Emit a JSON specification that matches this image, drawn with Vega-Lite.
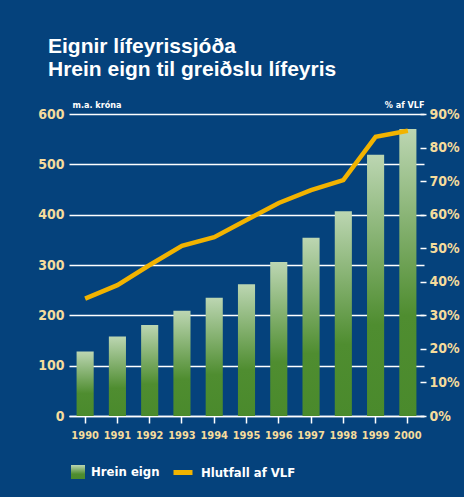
{
  "$schema": "https://vega.github.io/schema/vega-lite/v6.json",
  "width": 355,
  "height": 302,
  "autosize": {"type": "none"},
  "padding": {"left": 69, "top": 114, "right": 40, "bottom": 81},
  "background": "#05427c",
  "config": {
    "view": {"stroke": null},
    "font": "DejaVu Sans Condensed, Liberation Sans, sans-serif",
    "axis": {"labelFont": "DejaVu Sans Condensed, Liberation Sans, sans-serif", "labelFontWeight": "bold", "titleFont": "DejaVu Sans Condensed, Liberation Sans, sans-serif", "titleFontWeight": "bold"},
    "legend": {"labelFont": "DejaVu Sans Condensed, Liberation Sans, sans-serif", "labelFontWeight": "bold", "labelColor": "white", "labelFontSize": 13}
  },
  "title": {
    "text": ["Eignir lífeyrissjóða", "Hrein eign til greiðslu lífeyris"],
    "anchor": "start",
    "frame": "group",
    "font": "Liberation Sans",
    "fontWeight": "bold",
    "fontSize": 21,
    "lineHeight": 23,
    "color": "white",
    "dx": -21,
    "offset": 20
  },
  "data": {
    "values": [
      {"year": "1990", "eign": 128, "vlf": 0.35},
      {"year": "1991", "eign": 158, "vlf": 0.39},
      {"year": "1992", "eign": 181, "vlf": 0.45},
      {"year": "1993", "eign": 209, "vlf": 0.507},
      {"year": "1994", "eign": 235, "vlf": 0.533},
      {"year": "1995", "eign": 262, "vlf": 0.584},
      {"year": "1996", "eign": 306, "vlf": 0.635},
      {"year": "1997", "eign": 354, "vlf": 0.673},
      {"year": "1998", "eign": 407, "vlf": 0.703},
      {"year": "1999", "eign": 519, "vlf": 0.832},
      {"year": "2000", "eign": 570, "vlf": 0.85}
    ]
  },
  "encoding": {
    "x": {
      "field": "year",
      "type": "ordinal",
      "scale": {"paddingInner": 0.47, "paddingOuter": 0.235},
      "axis": {
        "title": null,
        "labelAngle": 0,
        "domainColor": "white",
        "domainWidth": 1.5,
        "tickColor": "white",
        "tickWidth": 1.5,
        "tickSize": 7,
        "labelColor": "#f5dc9c",
        "labelFontSize": 11,
        "labelPadding": 6
      }
    }
  },
  "layer": [
    {
      "mark": {
        "type": "bar",
        "fill": {"gradient": "linear", "x1": 0, "y1": 0, "x2": 0, "y2": 1, "stops": [{"offset": 0, "color": "#bcd6b2"}, {"offset": 0.65, "color": "#4f8d30"}, {"offset": 1, "color": "#4a8a2c"}]}
      },
      "encoding": {
        "y": {
          "field": "eign",
          "type": "quantitative",
          "scale": {"domain": [0, 600], "nice": false},
          "axis": {
            "orient": "left",
            "values": [0, 100, 200, 300, 400, 500, 600],
            "grid": true,
            "gridColor": "white",
            "gridWidth": 1.5,
            "ticks": false,
            "domain": false,
            "labelColor": "#f5dc9c",
            "labelFontSize": 14,
            "labelPadding": 5,
            "title": "m.a. króna",
            "titleAngle": 0,
            "titleX": 3,
            "titleY": -5,
            "titleAlign": "left",
            "titleBaseline": "bottom",
            "titleColor": "white",
            "titleFontSize": 9
          }
        },
        "opacity": {
          "datum": "Hrein eign",
          "type": "nominal",
          "scale": {"range": [1]},
          "legend": {
            "orient": "none",
            "legendX": 2,
            "legendY": 351,
            "title": null,
            "symbolType": "square",
            "symbolSize": 196,
            "symbolStrokeWidth": 0,
            "symbolFillColor": "#6fa050",
            "labelOffset": 6,
            "encode": {
              "symbols": {
                "update": {
                  "fill": {"value": {"gradient": "linear", "x1": 0, "y1": 0, "x2": 1, "y2": 1, "stops": [{"offset": 0, "color": "#bcd6b2"}, {"offset": 0.7, "color": "#4f8d30"}, {"offset": 1, "color": "#4a8a2c"}]}},
                  "stroke": {"value": "transparent"}
                }
              }
            }
          }
        }
      }
    },
    {
      "mark": {"type": "line", "strokeWidth": 4.5},
      "encoding": {
        "y": {
          "field": "vlf",
          "type": "quantitative",
          "scale": {"domain": [0, 0.9], "nice": false},
          "axis": {
            "orient": "right",
            "values": [0, 0.1, 0.2, 0.3, 0.4, 0.5, 0.6, 0.7, 0.8, 0.9],
            "format": ".0%",
            "grid": false,
            "domain": false,
            "ticks": true,
            "tickColor": "white",
            "tickWidth": 1.5,
            "tickSize": 6,
            "offset": -4,
            "labelColor": "#f5dc9c",
            "labelFontSize": 14,
            "labelPadding": 3,
            "title": "% af VLF",
            "titleAngle": 0,
            "titleX": 4,
            "titleY": -5,
            "titleAlign": "right",
            "titleBaseline": "bottom",
            "titleColor": "white",
            "titleFontSize": 9
          }
        },
        "stroke": {
          "datum": "Hlutfall af VLF",
          "scale": {"range": ["#f2b300"]},
          "legend": {
            "orient": "none",
            "legendX": 102,
            "legendY": 346.5,
            "title": null,
            "symbolType": "stroke",
            "symbolSize": 361,
            "symbolStrokeWidth": 5,
            "labelOffset": 6
          }
        }
      }
    }
  ],
  "resolve": {"scale": {"y": "independent"}}
}
